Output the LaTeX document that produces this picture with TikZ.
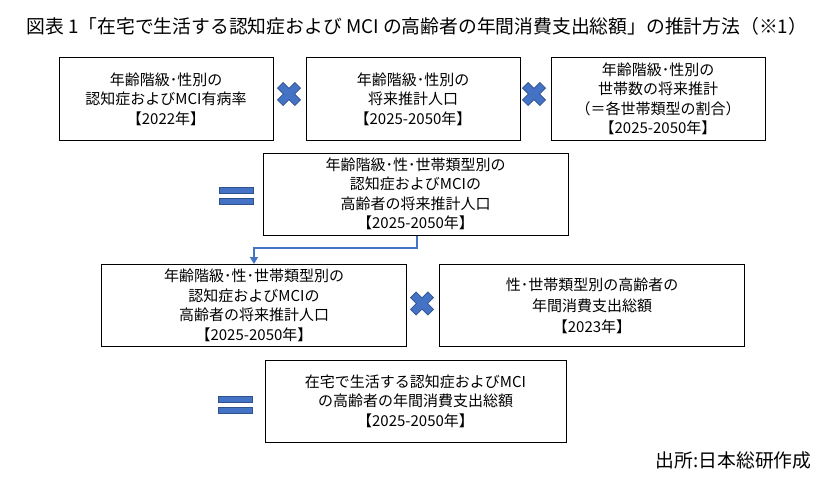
\documentclass[tikz,border=0pt]{standalone}
\usepackage{fontspec}
\setmainfont{Noto Sans CJK JP}
\usetikzlibrary{arrows.meta, positioning}
\definecolor{markblue}{HTML}{4472C4}
\definecolor{markedge}{HTML}{2F528F}
\tikzset{
    box/.style={draw, rectangle, line width=1pt, minimum width=214pt, minimum height=82pt, inner sep=0pt, align=center, font=\fontsize{15}{19.5}\selectfont},
    widebox/.style={box, minimum width=305pt},
    arrow/.style={draw, -{Triangle[length=7pt, width=8pt]}, line width=1.8pt, color=markblue},
    caption/.style={font=\fontsize{18.8}{22}\selectfont},
    multmark/.pic={\filldraw[fill=markblue, draw=markedge, line width=0.7pt, rotate=45]
        (4,12.3) -- (4,4) -- (12.3,4) -- (12.3,-4) -- (4,-4) -- (4,-12.3) -- (-4,-12.3) -- (-4,-4)
        -- (-12.3,-4) -- (-12.3,4) -- (-4,4) -- (-4,12.3) -- cycle;},
    eqmark/.pic={\filldraw[fill=markblue, draw=markedge, line width=0.7pt]
        (-17,-8.5) rectangle (17,-2.5) (-17,2.5) rectangle (17,8.5);}
}

\begin{document}
\begin{tikzpicture}[x=1pt, y=-1pt]
    \path [fill=white, use as bounding box] (0,0) rectangle (837,487);

    \node [caption, anchor=west] (title) at (23,26) {図表 1「在宅で生活する認知症および MCI の高齢者の年間消費支出総額」の推計方法（※1）};

    \node [box] (rate) at (166,99) {年齢階級･性別の\\認知症およびMCI有病率\\【2022年】};
    \node [box, right=32pt of rate] (pop) {年齢階級･性別の\\将来推計人口\\【2025-2050年】};
    \node [box, right=30pt of pop] (hh) {年齢階級･性別の\\世帯数の将来推計\\（＝各世帯類型の割合）\\【2025-2050年】};
    \pic (m1) at (289,94) {multmark};
    \pic (m2) at (534,94) {multmark};

    \node [widebox] (est) at (415.5,194) {年齢階級･性･世帯類型別の\\認知症およびMCIの\\高齢者の将来推計人口\\【2025-2050年】};
    \pic (e1) at (236,195.5) {eqmark};

    \node [widebox] (est2) at (254,305.5) {年齢階級･性･世帯類型別の\\認知症およびMCIの\\高齢者の将来推計人口\\【2025-2050年】};
    \node [widebox, right=32pt of est2, font=\fontsize{15}{21}\selectfont] (spend) {性･世帯類型別の高齢者の\\年間消費支出総額\\【2023年】};
    \pic (m3) at (422,303.5) {multmark};

    \node [widebox, minimum width=301pt] (total) at (415.5,401) {在宅で生活する認知症およびMCI\\の高齢者の年間消費支出総額\\【2025-2050年】};
    \pic (e2) at (235.5,404.5) {eqmark};

    \node [caption, anchor=east] (src) at (815,460) {出所:日本総研作成};

    \coordinate (bend) at (417,248);
    \draw [arrow] (est.south -| bend) -- (bend) -| (est2.north);
\end{tikzpicture}
\end{document}
